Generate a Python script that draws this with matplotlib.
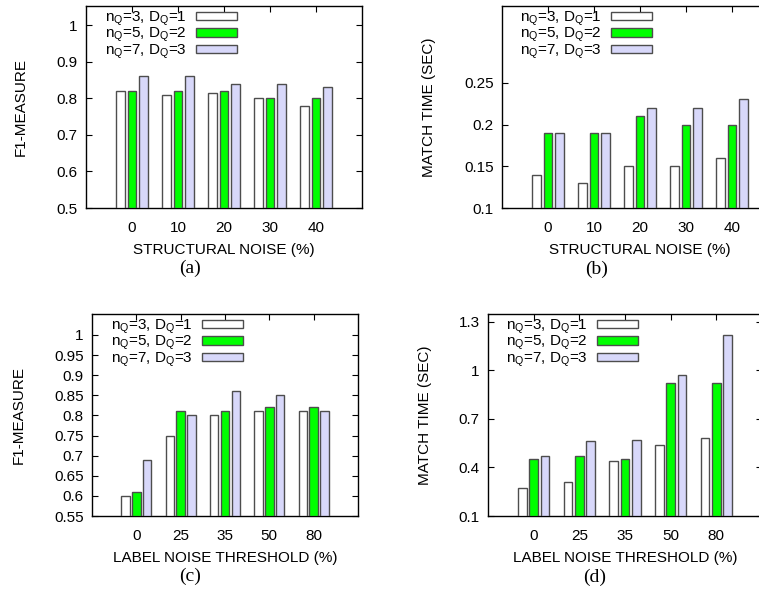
import numpy as np
import matplotlib
matplotlib.use("Agg")
import matplotlib.pyplot as plt
from matplotlib.patches import Patch

plt.rcParams["font.family"] = ["Liberation Sans", "DejaVu Sans"]
plt.rcParams["mathtext.default"] = "regular"

# data
struct_noise = ["0", "10", "20", "30", "40"]
label_noise = ["0", "25", "35", "50", "80"]
series_names = ["n$_Q$=3, D$_Q$=1", "n$_Q$=5, D$_Q$=2", "n$_Q$=7, D$_Q$=3"]

f1_struct_q3 = [0.82, 0.81, 0.815, 0.80, 0.78]
f1_struct_q5 = [0.82, 0.82, 0.82, 0.80, 0.80]
f1_struct_q7 = [0.86, 0.86, 0.84, 0.84, 0.83]

time_struct_q3 = [0.14, 0.13, 0.15, 0.15, 0.16]
time_struct_q5 = [0.19, 0.19, 0.21, 0.20, 0.20]
time_struct_q7 = [0.19, 0.19, 0.22, 0.22, 0.23]

f1_label_q3 = [0.60, 0.75, 0.80, 0.81, 0.81]
f1_label_q5 = [0.61, 0.81, 0.81, 0.82, 0.82]
f1_label_q7 = [0.69, 0.80, 0.86, 0.85, 0.81]

time_label_q3 = [0.27, 0.31, 0.44, 0.54, 0.58]
time_label_q5 = [0.45, 0.47, 0.45, 0.92, 0.92]
time_label_q7 = [0.47, 0.56, 0.57, 0.97, 1.22]

COLORS = ["#ffffff", "#00ff00", "#d8d8fa"]
EDGE = "#4d4d4d"
W, OFF = 0.19, 0.245


def panel(fig, rect, cats, series, ylim, yticks, ytl, xlabel, ylabel, ylab_x,
          leg_anchor, caption, cap_xy):
    ax = fig.add_axes(rect)
    x = np.arange(len(cats))
    for i, vals in enumerate(series):
        ax.bar(x + (i - 1) * OFF, np.array(vals) - ylim[0], W, bottom=ylim[0],
               color=COLORS[i], edgecolor=EDGE, linewidth=1.0, zorder=3)
    ax.set_xlim(-1, 5)
    ax.set_ylim(*ylim)
    ax.set_xticks(x)
    ax.set_xticklabels(cats)
    ax.set_yticks(yticks)
    ax.set_yticklabels(ytl)
    ax.tick_params(axis="both", direction="in", labelsize=11, length=4, width=0.8,
                   top=True, right=True, pad=6)
    ax.tick_params(axis="x", bottom=False, pad=9)
    for s in ax.spines.values():
        s.set_linewidth(1.0)
    ax.set_xlabel(xlabel, fontsize=11)
    ax.xaxis.set_label_coords(0.5, -0.175)
    ax.set_ylabel(ylabel, fontsize=11)
    ax.yaxis.set_label_coords(ylab_x, 0.5)
    handles = [Patch(facecolor=c, edgecolor=EDGE, linewidth=1.0) for c in COLORS]
    ax.legend(handles, series_names, loc="upper left", bbox_to_anchor=leg_anchor,
              frameon=False, markerfirst=False, fontsize=11, handlelength=2.7,
              handleheight=0.5, handletextpad=0.6, labelspacing=-0.12,
              borderpad=0, borderaxespad=0)
    fig.text(cap_xy[0], cap_xy[1], caption, family="Liberation Serif", fontsize=14,
             ha="center", va="center")
    return ax


fig = plt.figure(figsize=(7.59, 5.90), dpi=100)
FW, FH = 759.0, 590.0

panel(fig, [86 / FW, 1 - 208 / FH, 276 / FW, 202 / FH], struct_noise,
      [f1_struct_q3, f1_struct_q5, f1_struct_q7], (0.5, 1.052),
      [0.5, 0.6, 0.7, 0.8, 0.9, 1.0], ["0.5", "0.6", "0.7", "0.8", "0.9", "1"],
      "STRUCTURAL NOISE (%)", "F1-MEASURE", -0.21, (0.07, 0.982),
      "(a)", (190 / FW, 1 - 268 / FH))

panel(fig, [502 / FW, 1 - 208 / FH, 276 / FW, 202 / FH], struct_noise,
      [time_struct_q3, time_struct_q5, time_struct_q7], (0.1, 0.342),
      [0.1, 0.15, 0.2, 0.25], ["0.1", "0.15", "0.2", "0.25"],
      "STRUCTURAL NOISE (%)", "MATCH TIME (SEC)", -0.24, (0.065, 0.982),
      "(b)", (597 / FW, 1 - 269 / FH))

panel(fig, [92 / FW, 1 - 516 / FH, 266 / FW, 202 / FH], label_noise,
      [f1_label_q3, f1_label_q5, f1_label_q7], (0.55, 1.052),
      [0.55, 0.6, 0.65, 0.7, 0.75, 0.8, 0.85, 0.9, 0.95, 1.0],
      ["0.55", "0.6", "0.65", "0.7", "0.75", "0.8", "0.85", "0.9", "0.95", "1"],
      "LABEL NOISE THRESHOLD (%)", "F1-MEASURE", -0.25, (0.07, 0.982),
      "(c)", (190 / FW, 1 - 576 / FH))

panel(fig, [488 / FW, 1 - 516 / FH, 274 / FW, 202 / FH], label_noise,
      [time_label_q3, time_label_q5, time_label_q7], (0.1, 1.347),
      [0.1, 0.4, 0.7, 1.0, 1.3], ["0.1", "0.4", "0.7", "1", "1.3"],
      "LABEL NOISE THRESHOLD (%)", "MATCH TIME (SEC)", -0.205, (0.065, 0.982),
      "(d)", (595 / FW, 1 - 577 / FH))

fig.savefig("out.png", dpi=100)
